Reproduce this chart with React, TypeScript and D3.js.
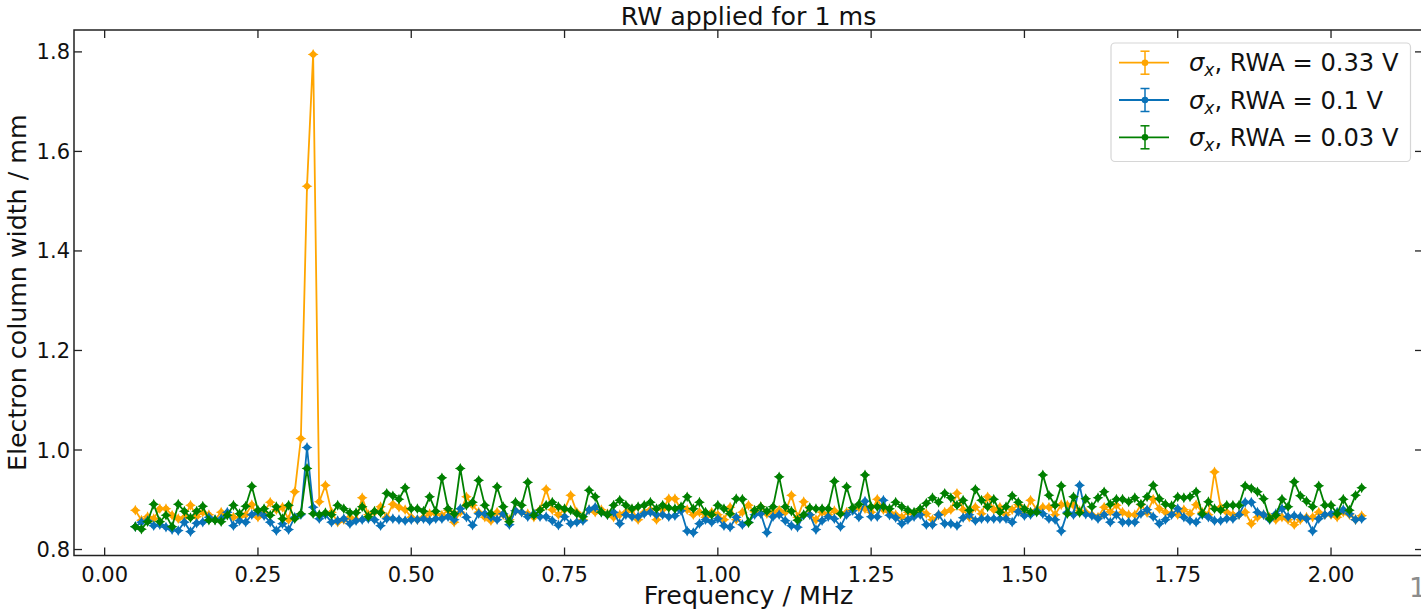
import React from "react";
import * as d3 from "d3";

// Frequencies 0.05 .. 2.05 MHz, step 0.01
const freqs: number[] = d3.range(201).map((i) => +(0.05 + i * 0.01).toFixed(2));

const rwa033: number[] = [
  0.879, 0.859, 0.866, 0.862, 0.882,
  0.882, 0.869, 0.862, 0.865, 0.889, 0.866, 0.875, 0.870, 0.860, 0.875,
  0.870, 0.865, 0.865, 0.870, 0.890, 0.865, 0.875, 0.895, 0.880, 0.885,
  0.860, 0.916, 1.023, 1.530, 1.795, 0.896, 0.929, 0.875, 0.855, 0.860,
  0.865, 0.860, 0.904, 0.870, 0.875, 0.886, 0.865, 0.891, 0.885, 0.880,
  0.865, 0.860, 0.865, 0.872, 0.872, 0.869, 0.879, 0.855, 0.875, 0.906,
  0.889, 0.875, 0.865, 0.858, 0.875, 0.870, 0.860, 0.878, 0.875, 0.872,
  0.865, 0.880, 0.921, 0.880, 0.870, 0.880, 0.909, 0.875, 0.860, 0.880,
  0.875, 0.880, 0.872, 0.865, 0.870, 0.875, 0.880, 0.860, 0.875, 0.880,
  0.860, 0.880, 0.902, 0.902, 0.880, 0.880, 0.870, 0.875, 0.865, 0.875,
  0.870, 0.860, 0.885, 0.860, 0.875, 0.889, 0.876, 0.886, 0.872, 0.875,
  0.879, 0.875, 0.909, 0.865, 0.896, 0.870, 0.860, 0.875, 0.870, 0.878,
  0.872, 0.875, 0.880, 0.885, 0.882, 0.875, 0.901, 0.880, 0.875, 0.870,
  0.865, 0.875, 0.870, 0.880, 0.872, 0.860, 0.870, 0.875, 0.880, 0.913,
  0.880, 0.865, 0.885, 0.872, 0.906, 0.880, 0.885, 0.870, 0.880, 0.890,
  0.870, 0.899, 0.880, 0.885, 0.885, 0.870, 0.890, 0.889, 0.889, 0.878,
  0.875, 0.870, 0.865, 0.885, 0.876, 0.889, 0.875, 0.870, 0.870, 0.890,
  0.874, 0.901, 0.882, 0.875, 0.872, 0.870, 0.880, 0.872, 0.890, 0.875,
  0.870, 0.956, 0.885, 0.875, 0.870, 0.870, 0.875, 0.852, 0.865, 0.870,
  0.865, 0.860, 0.865, 0.860, 0.850, 0.860, 0.865, 0.865, 0.875, 0.870,
  0.870, 0.865, 0.875, 0.870, 0.860, 0.868,
];

const rwa01: number[] = [
  0.846, 0.855, 0.858, 0.848, 0.850,
  0.845, 0.840, 0.838, 0.855, 0.836, 0.853, 0.855, 0.865, 0.860, 0.862,
  0.875, 0.848, 0.858, 0.855, 0.870, 0.875, 0.868, 0.855, 0.838, 0.852,
  0.840, 0.865, 0.870, 1.005, 0.885, 0.862, 0.870, 0.855, 0.858, 0.862,
  0.852, 0.858, 0.860, 0.862, 0.860, 0.848, 0.862, 0.862, 0.860, 0.858,
  0.860, 0.860, 0.862, 0.858, 0.862, 0.862, 0.866, 0.860, 0.882, 0.865,
  0.849, 0.872, 0.872, 0.865, 0.860, 0.872, 0.850, 0.878, 0.875, 0.866,
  0.872, 0.866, 0.866, 0.858, 0.849, 0.866, 0.852, 0.855, 0.858, 0.880,
  0.885, 0.875, 0.870, 0.875, 0.852, 0.870, 0.866, 0.866, 0.872, 0.875,
  0.870, 0.870, 0.866, 0.868, 0.878, 0.837, 0.834, 0.852, 0.860, 0.855,
  0.862, 0.848, 0.845, 0.865, 0.850, 0.855, 0.870, 0.872, 0.834, 0.866,
  0.870, 0.858, 0.848, 0.845, 0.869, 0.870, 0.840, 0.858, 0.866, 0.862,
  0.846, 0.870, 0.878, 0.865, 0.897, 0.866, 0.866, 0.899, 0.869, 0.864,
  0.852, 0.860, 0.866, 0.870, 0.850, 0.850, 0.870, 0.852, 0.852, 0.848,
  0.864, 0.870, 0.858, 0.862, 0.862, 0.862, 0.862, 0.862, 0.855, 0.876,
  0.868, 0.870, 0.878, 0.872, 0.862, 0.860, 0.837, 0.875, 0.870, 0.929,
  0.871, 0.868, 0.862, 0.870, 0.855, 0.870, 0.855, 0.855, 0.855, 0.872,
  0.880, 0.866, 0.852, 0.860, 0.870, 0.882, 0.865, 0.858, 0.855, 0.870,
  0.865, 0.858, 0.858, 0.862, 0.862, 0.870, 0.895, 0.895, 0.875, 0.870,
  0.860, 0.872, 0.882, 0.866, 0.868, 0.866, 0.862, 0.837, 0.862, 0.870,
  0.872, 0.875, 0.880, 0.872, 0.860, 0.862,
];

const rwa003: number[] = [
  0.846, 0.841, 0.856, 0.891, 0.856,
  0.869, 0.846, 0.891, 0.877, 0.864, 0.877, 0.887, 0.859, 0.859, 0.856,
  0.869, 0.889, 0.872, 0.887, 0.927, 0.879, 0.882, 0.869, 0.886, 0.862,
  0.889, 0.862, 0.872, 0.963, 0.872, 0.870, 0.874, 0.870, 0.889, 0.882,
  0.874, 0.874, 0.886, 0.866, 0.877, 0.874, 0.913, 0.908, 0.901, 0.924,
  0.882, 0.882, 0.877, 0.906, 0.877, 0.944, 0.882, 0.872, 0.963, 0.889,
  0.895, 0.939, 0.889, 0.872, 0.926, 0.886, 0.856, 0.895, 0.889, 0.935,
  0.869, 0.879, 0.889, 0.895, 0.886, 0.882, 0.879, 0.872, 0.866, 0.919,
  0.906, 0.875, 0.870, 0.889, 0.899, 0.889, 0.882, 0.886, 0.889, 0.895,
  0.882, 0.889, 0.884, 0.882, 0.886, 0.906, 0.882, 0.895, 0.875, 0.870,
  0.889, 0.882, 0.872, 0.902, 0.901, 0.854, 0.879, 0.886, 0.877, 0.886,
  0.946, 0.886, 0.877, 0.859, 0.870, 0.884, 0.882, 0.882, 0.882, 0.937,
  0.872, 0.926, 0.884, 0.891, 0.950, 0.886, 0.886, 0.886, 0.882, 0.895,
  0.886, 0.879, 0.875, 0.882, 0.893, 0.904, 0.895, 0.913, 0.904, 0.889,
  0.899, 0.879, 0.921, 0.899, 0.886, 0.901, 0.875, 0.886, 0.908, 0.895,
  0.882, 0.875, 0.875, 0.950, 0.909, 0.889, 0.928, 0.872, 0.906, 0.874,
  0.902, 0.886, 0.904, 0.916, 0.891, 0.901, 0.901, 0.896, 0.904, 0.891,
  0.906, 0.929, 0.902, 0.891, 0.888, 0.906, 0.904, 0.906, 0.916, 0.872,
  0.896, 0.882, 0.879, 0.889, 0.889, 0.889, 0.928, 0.923, 0.916, 0.902,
  0.862, 0.869, 0.901, 0.886, 0.936, 0.908, 0.897, 0.886, 0.928, 0.889,
  0.889, 0.872, 0.901, 0.879, 0.909, 0.924,
];

const seriesLabels: string[] = ["0.33 V", "0.1 V", "0.03 V"];
const seriesColors: string[] = ["#FFA500", "#0a72b8", "#008000"];
const seriesValues: number[][] = [rwa033, rwa01, rwa003];

const xTicks: number[] = [0, 0.25, 0.5, 0.75, 1.0, 1.25, 1.5, 1.75, 2.0];
const yTicks: number[] = [0.8, 1.0, 1.2, 1.4, 1.6, 1.8];

const W = 1421;
const H = 609;
const PL = 74;
const PR = 1423;
const PT = 30;
const PB = 555.5;
const FONT = "DejaVu Sans, sans-serif";

const starPath = "M0,-5.4L1.8,-1.8L5.4,0L1.8,1.8L0,5.4L-1.8,1.8L-5.4,0L-1.8,-1.8Z";

export default function App() {
  const x = d3.scaleLinear().domain([-0.05, 2.15]).range([PL, PR]);
  const y = d3.scaleLinear().domain([0.788, 1.844]).range([PB, PT]);
  const line = d3
    .line<number>()
    .x((_, i) => x(freqs[i]))
    .y((d) => y(d));
  const tickLen = 8;

  const legendX = 1111;
  const legendY = 43;
  const legendRows = [62.7, 100, 137.3];

  return (
    <svg
      width={W}
      height={H}
      style={{ position: "absolute", left: 0, top: 0, background: "#fff" }}
      fontFamily={FONT}
    >
      <rect x={0} y={0} width={W} height={H} fill="#fff" />
      {/* series */}
      {seriesValues.map((vals, si) => (
        <g key={si}>
          <path d={line(vals) || ""} fill="none" stroke={seriesColors[si]} strokeWidth={1.8} />
          {vals.map((v, i) => (
            <g key={i} transform={`translate(${x(freqs[i])},${y(v)})`}>
              <path d={starPath} fill={seriesColors[si]} />
              <circle r={3} fill={seriesColors[si]} />
            </g>
          ))}
        </g>
      ))}

      {/* spines */}
      <rect x={PL} y={PT} width={PR - PL} height={PB - PT} fill="none" stroke="#222" strokeWidth={1.5} />

      {/* x ticks */}
      {xTicks.map((t) => (
        <g key={"x" + t}>
          <line x1={x(t)} x2={x(t)} y1={PB} y2={PB - tickLen} stroke="#222" strokeWidth={1.3} />
          <line x1={x(t)} x2={x(t)} y1={PT} y2={PT + tickLen} stroke="#222" strokeWidth={1.3} />
          <text x={x(t)} y={582} textAnchor="middle" fontSize={21} fill="#111">
            {d3.format(".2f")(t)}
          </text>
        </g>
      ))}
      {/* y ticks */}
      {yTicks.map((t) => (
        <g key={"y" + t}>
          <line x1={PL} x2={PL + tickLen} y1={y(t)} y2={y(t)} stroke="#222" strokeWidth={1.3} />
          <line x1={PR} x2={PR - tickLen} y1={y(t)} y2={y(t)} stroke="#222" strokeWidth={1.3} />
          <text x={70} y={y(t) + 7.5} textAnchor="end" fontSize={21} fill="#111">
            {d3.format(".1f")(t)}
          </text>
        </g>
      ))}

      {/* title & labels */}
      <text x={(PL + PR) / 2} y={25} textAnchor="middle" fontSize={25.3} fill="#111">
        RW applied for 1 ms
      </text>
      <text x={(PL + PR) / 2} y={604} textAnchor="middle" fontSize={25.3} fill="#111">
        Frequency / MHz
      </text>
      <text
        transform={`translate(26,${(PT + PB) / 2}) rotate(-90)`}
        textAnchor="middle"
        fontSize={25.3}
        fill="#111"
      >
        Electron column width / mm
      </text>

      {/* legend */}
      <rect
        x={legendX}
        y={legendY}
        width={299.5}
        height={118.5}
        rx={4}
        fill="#fff"
        fillOpacity={0.8}
        stroke="#d6d6d6"
        strokeWidth={1.2}
      />
      {seriesLabels.map((lab, i) => {
        const cy = legendRows[i];
        const c = seriesColors[i];
        return (
          <g key={"lg" + i}>
            <line x1={1119} x2={1169} y1={cy} y2={cy} stroke={c} strokeWidth={1.8} />
            <line x1={1145} x2={1145} y1={cy - 11.5} y2={cy + 11.5} stroke={c} strokeWidth={1.5} />
            <line x1={1140.5} x2={1149.5} y1={cy - 11.5} y2={cy - 11.5} stroke={c} strokeWidth={1.5} />
            <line x1={1140.5} x2={1149.5} y1={cy + 11.5} y2={cy + 11.5} stroke={c} strokeWidth={1.5} />
            <circle cx={1145} cy={cy} r={3.3} fill={c} />
            <text x={1189} y={cy + 8.5} fontSize={24.2} fill="#111">
              <tspan fontStyle="italic">σ</tspan>
              <tspan fontStyle="italic" fontSize={17} dy={5}>x</tspan>
              <tspan dy={-5}>, RWA = {lab}</tspan>
            </text>
          </g>
        );
      })}

      {/* cut-off page number */}
      <text x={1409} y={597} fontSize={27} fill="#8c8c8c">
        1
      </text>
    </svg>
  );
}
